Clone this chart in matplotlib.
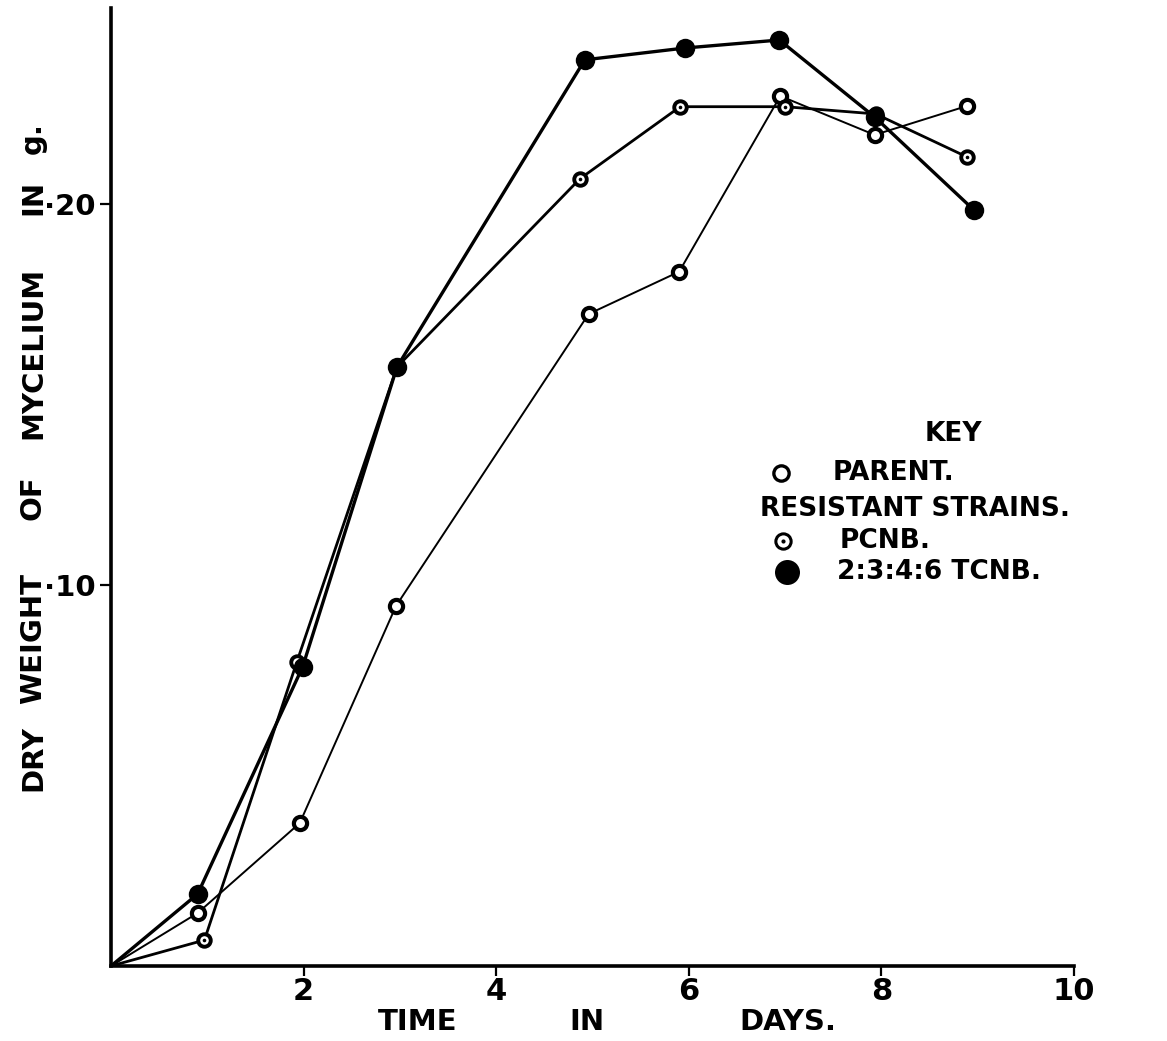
import matplotlib
matplotlib.use("Agg")
import matplotlib.pyplot as plt

# dry weight of mycelium (g) against time (days), read per strain
parent_days = [0.0, 0.90, 1.96, 2.96, 4.96, 5.90, 6.95, 7.93, 8.89]
parent_wt = [0.0, 0.0139, 0.0375, 0.0945, 0.1711, 0.1822, 0.2283, 0.2181, 0.2257]

pcnb_days = [0.0, 0.97, 1.93, 2.97, 4.87, 5.91, 7.00, 7.94, 8.89]
pcnb_wt = [0.0, 0.0068, 0.0798, 0.1572, 0.2066, 0.2255, 0.2255, 0.2236, 0.2123]

tcnb_days = [0.0, 0.90, 1.99, 2.97, 4.92, 5.96, 6.94, 7.93, 8.96]
tcnb_wt = [0.0, 0.0189, 0.0785, 0.1572, 0.2378, 0.2409, 0.2430, 0.2228, 0.1984]

x_ticks = [2, 4, 6, 8, 10]
x_tick_labels = ["2", "4", "6", "8", "10"]
y_ticks = [0.10, 0.20]
y_tick_labels = ["·10", "·20"]

W, H = 1167, 1041
plt.rcParams["font.family"] = ["DejaVu Sans"]
plt.rcParams["font.weight"] = "bold"

fig = plt.figure(figsize=(W / 100, H / 100), dpi=100)
ax = fig.add_axes([111 / W, 75 / H, 963 / W, 958 / H])
ax.set_xlim(0, 10)
ax.set_ylim(0, 0.2514)


def px(x, y):
    return x / W, 1 - y / H


# strain curves: lines first, markers on top
ax.plot(parent_days, parent_wt, color="black", lw=1.4, zorder=2)
ax.plot(pcnb_days, pcnb_wt, color="black", lw=2.0, zorder=2)
ax.plot(tcnb_days, tcnb_wt, color="black", lw=2.4, zorder=2)

ax.plot(parent_days[1:], parent_wt[1:], ls="none", marker="o", ms=9.5,
        mfc="white", mec="black", mew=3.0, zorder=4)
ax.plot(pcnb_days[1:], pcnb_wt[1:], ls="none", marker="o", ms=9.0,
        mfc="white", mec="black", mew=2.8, zorder=4)
ax.plot(pcnb_days[1:], pcnb_wt[1:], ls="none", marker="o", ms=2.6,
        mfc="black", mec="black", mew=0, zorder=5)
ax.plot(tcnb_days[1:], tcnb_wt[1:], ls="none", marker="o", ms=14,
        mfc="black", mec="black", mew=0, zorder=6)

# axes: only left and bottom lines, heavy pen
for side in ("top", "right"):
    ax.spines[side].set_visible(False)
for side in ("left", "bottom"):
    ax.spines[side].set_linewidth(2.6)

ax.set_xticks(x_ticks, x_tick_labels)
ax.set_yticks(y_ticks, y_tick_labels)
ax.tick_params(axis="x", direction="out", length=7, width=1.6, pad=1,
               labelsize=22)
ax.tick_params(axis="y", direction="out", length=8, width=1.6, pad=3,
               labelsize=21)

# axis titles, word by word
ylabel_words = [("DRY", 758), ("WEIGHT", 638), ("OF", 498),
                ("MYCELIUM", 353), ("IN", 197), ("g.", 138)]
for word, yc in ylabel_words:
    fig.text(*px(33, yc), word, rotation=90, ha="center", va="center",
             fontsize=21)

xlabel_words = [("TIME", 418), ("IN", 587), ("DAYS.", 788)]
for word, xc in xlabel_words:
    fig.text(*px(xc, 1022), word, ha="center", va="center", fontsize=21)

# key
key_size = 19
fig.text(*px(953, 434), "KEY", ha="center", va="center", fontsize=key_size)
fig.text(*px(833, 473), "PARENT.", ha="left", va="center", fontsize=key_size)
fig.text(*px(760, 509), "RESISTANT STRAINS.", ha="left", va="center",
         fontsize=key_size)
fig.text(*px(840, 541), "PCNB.", ha="left", va="center", fontsize=key_size)
fig.text(*px(837, 572), "2:3:4:6 TCNB.", ha="left", va="center",
         fontsize=key_size)

key = fig.add_axes([0, 0, 1, 1], facecolor="none")
key.set_xlim(0, W)
key.set_ylim(H, 0)
key.axis("off")
key.plot([781], [473], ls="none", marker="o", ms=11, mfc="white",
         mec="black", mew=2.4)
key.plot([783], [541], ls="none", marker="o", ms=11, mfc="white",
         mec="black", mew=2.2)
key.plot([783], [541], ls="none", marker="o", ms=3, mfc="black", mew=0)
key.plot([787], [572], ls="none", marker="o", ms=18, mfc="black", mew=0)

fig.savefig("out.png", dpi=100, facecolor="white")
